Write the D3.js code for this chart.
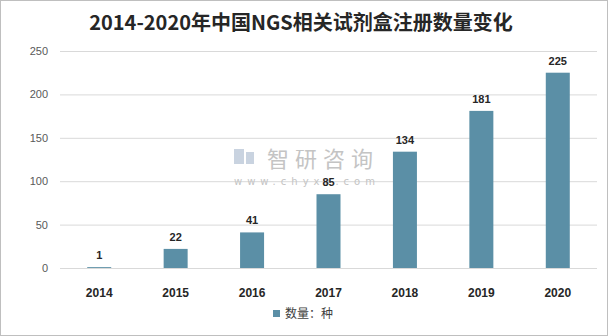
<!DOCTYPE html>
<html><head><meta charset="utf-8">
<script src="https://cdn.jsdelivr.net/npm/d3@7"></script>
<style>body{margin:0;background:#fff;}svg{display:block;font-family:"Noto Sans CJK SC","Noto Sans",sans-serif;}</style>
</head><body>
<svg id="c" width="608" height="336"></svg>
<script>
const categories = ["2014","2015","2016","2017","2018","2019","2020"];
const values = [1,22,41,85,134,181,225];
const yTicks = [0,50,100,150,200,250];
const title = "2014-2020年中国NGS相关试剂盒注册数量变化";
const seriesName = "数量：种";

const svg = d3.select("#c");
svg.append("rect").attr("x",0.5).attr("y",0.5).attr("width",607).attr("height",335)
  .attr("fill","#fff").attr("stroke","#bfbfbf");

const x = d3.scaleBand().domain(categories).range([61,596]).paddingInner(0.686).paddingOuter(0.343);
const y = d3.scaleLinear().domain([0,250]).range([268,51]);

// gridlines
svg.append("g").selectAll("line").data(yTicks).join("line")
  .attr("x1",60).attr("x2",597).attr("y1",d=>y(d)+0.5).attr("y2",d=>y(d)+0.5)
  .attr("stroke","#d9d9d9").attr("stroke-width",1);

// y axis labels
const ya = svg.append("g").attr("transform","translate(48,0)")
  .call(d3.axisLeft(y).tickValues(yTicks).tickSize(0).tickPadding(0));
ya.select(".domain").remove();
ya.selectAll("text").attr("fill","#595959").style("font-size","11px").style("font-family","'Liberation Sans','DejaVu Sans',sans-serif");

// watermark
const wm = svg.append("g");
wm.append("rect").attr("x",234).attr("y",149).attr("width",10).attr("height",15).attr("fill","#c9d3e0");
wm.append("rect").attr("x",246).attr("y",152).attr("width",8).attr("height",12).attr("fill","#c9d3e0");
wm.append("text").attr("x",267).attr("y",167).text("智研咨询")
  .attr("fill","#c4c4c4").style("font-size","22px").attr("letter-spacing","6px");
wm.append("text").attr("x",234).attr("y",185).text("www.chyxx.com")
  .attr("fill","#c4c4c4").style("font-size","10px").attr("letter-spacing","5px")
  .style("font-family","'DejaVu Sans',sans-serif");

// bars
svg.append("g").selectAll("rect").data(values).join("rect")
  .attr("x",(d,i)=>x(categories[i])).attr("width",x.bandwidth())
  .attr("y",d=>y(d)).attr("height",d=>y(0)-y(d)).attr("fill","#5b8fa6");

// data labels
svg.append("g").selectAll("text").data(values).join("text")
  .attr("x",(d,i)=>x(categories[i])+x.bandwidth()/2).attr("y",d=>y(d)-8)
  .attr("text-anchor","middle").text(d=>d)
  .attr("fill","#262626").style("font-size","11px").style("font-weight","bold")
  .style("font-family","'Liberation Sans','DejaVu Sans',sans-serif");

// x axis
const xa = svg.append("g").attr("transform","translate(0,268)")
  .call(d3.axisBottom(x).tickSize(0).tickPadding(20));
xa.select(".domain").remove();
xa.selectAll("text").attr("fill","#262626").style("font-size","12px").style("font-weight","bold")
  .style("font-family","'Liberation Sans','DejaVu Sans',sans-serif");

// title
svg.append("text").attr("x",301).attr("y",30).attr("text-anchor","middle").text(title)
  .attr("fill","#262626").style("font-size","20px").style("font-weight","bold");

// legend
svg.append("rect").attr("x",273).attr("y",310).attr("width",7).attr("height",7).attr("fill","#5b8fa6");
svg.append("text").attr("x",285).attr("y",318).text(seriesName)
  .attr("fill","#404040").style("font-size","12px");
</script>
</body></html>
